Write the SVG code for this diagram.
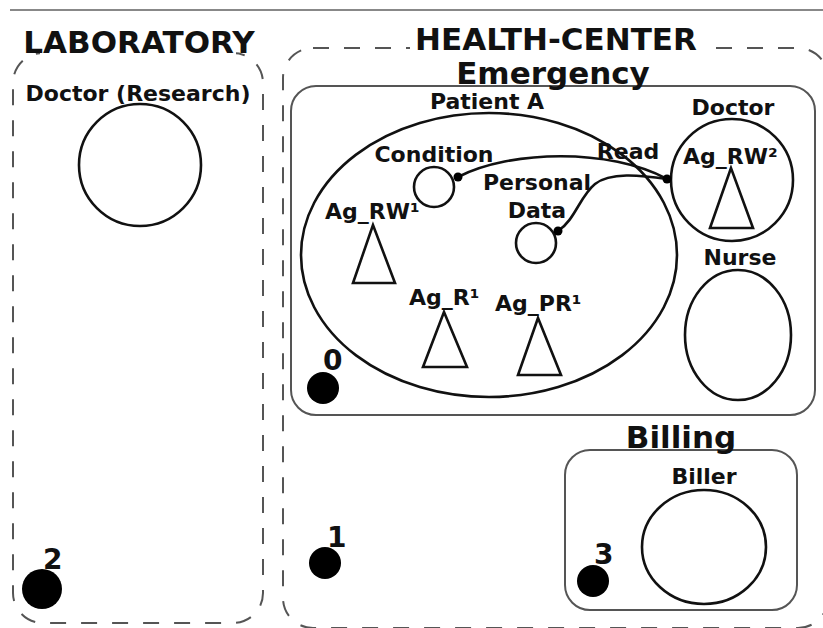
<svg xmlns="http://www.w3.org/2000/svg" width="823" height="628" viewBox="0 0 823 628">
  <style>
    text { font-family: "DejaVu Sans", "Liberation Sans", sans-serif; font-weight: bold; fill: #111; }
    .title { font-size: 31px; text-anchor: middle; }
    .lbl { font-size: 22px; text-anchor: middle; }
    .ag { font-size: 22px; }
    .num { font-size: 28px; }
    .zone { fill: none; stroke: #555; stroke-width: 2; stroke-dasharray: 16 15; }
    .box { fill: none; stroke: #555; stroke-width: 2; }
    .shape { fill: none; stroke: #111; stroke-width: 2.6; }
    .agent { fill: #fff; stroke: #111; stroke-width: 2.6; stroke-linejoin: miter; }
    .site { fill: #000; }
    .mask { fill: #fff; }
    .link { fill: none; stroke: #111; stroke-width: 2.6; }
    .end { fill: #000; }
  </style>

  <!-- header rule -->
  <line x1="10" y1="10" x2="823" y2="10" stroke="#888" stroke-width="2"/>

  <!-- laboratory zone -->
  <g id="laboratory">
    <rect class="zone" x="13" y="53" width="250" height="570" rx="30" ry="30"/>
    <rect class="mask" x="40" y="22" width="196" height="33"/>
    <text class="title" x="139" y="53">LABORATORY</text>
  </g>

  <g id="doctor-research">
    <text class="lbl" x="138" y="101">Doctor (Research)</text>
    <circle class="shape" cx="140" cy="165" r="61"/>
  </g>

  <g id="site-2">
    <circle class="site" cx="42" cy="589" r="20"/>
    <text class="num" x="43" y="569">2</text>
  </g>

  <!-- health-center zone -->
  <g id="health-center">
    <rect class="zone" x="283" y="48" width="545" height="580" rx="30" ry="30"/>
    <rect class="mask" x="410" y="18" width="294" height="31"/>
    <text class="title" x="556" y="50">HEALTH-CENTER</text>
  </g>

  <g id="site-1">
    <circle class="site" cx="325" cy="563" r="16"/>
    <text class="num" x="327" y="547">1</text>
  </g>

  <!-- emergency department -->
  <g id="emergency">
    <rect class="box" x="291" y="86" width="524" height="329" rx="25" ry="25"/>
    <text class="title" x="553" y="84">Emergency</text>
  </g>

  <g id="site-0">
    <circle class="site" cx="323" cy="388" r="16"/>
    <text class="num" x="323" y="370">0</text>
  </g>

  <g id="patient-a">
    <ellipse class="shape" cx="489" cy="255" rx="188" ry="142"/>
    <text class="lbl" x="487" y="109">Patient A</text>
  </g>

  <g id="condition">
    <text class="lbl" x="434" y="162">Condition</text>
    <circle class="shape" cx="434" cy="187" r="20"/>
  </g>

  <g id="personal-data">
    <text class="lbl" x="537" y="190">Personal</text>
    <text class="lbl" x="537" y="218">Data</text>
    <circle class="shape" cx="536" cy="243" r="20"/>
  </g>

  <g id="ag-rw1">
    <text class="ag" x="325" y="219">Ag_RW¹</text>
    <polygon class="agent" points="373,225 353,283 395,283"/>
  </g>

  <g id="ag-r1">
    <text class="ag" x="409" y="305">Ag_R¹</text>
    <polygon class="agent" points="444,312 423,367 467,367"/>
  </g>

  <g id="ag-pr1">
    <text class="ag" x="495" y="311">Ag_PR¹</text>
    <polygon class="agent" points="538,318 518,375 561,375"/>
  </g>

  <g id="doctor">
    <text class="lbl" x="733" y="115">Doctor</text>
    <circle class="shape" cx="732" cy="180" r="61"/>
  </g>

  <g id="ag-rw2">
    <text class="ag" x="683" y="164">Ag_RW²</text>
    <polygon class="agent" points="731,168 710,228 753,228"/>
  </g>

  <g id="nurse">
    <text class="lbl" x="740" y="265">Nurse</text>
    <ellipse class="shape" cx="738" cy="335" rx="53" ry="65"/>
  </g>

  <!-- billing department -->
  <g id="billing">
    <rect class="box" x="565" y="450" width="232" height="160" rx="25" ry="25"/>
    <text class="title" x="681" y="448">Billing</text>
  </g>

  <g id="biller">
    <text class="lbl" x="704" y="484">Biller</text>
    <ellipse class="shape" cx="704" cy="547" rx="62" ry="57"/>
  </g>

  <g id="site-3">
    <circle class="site" cx="593" cy="581" r="16"/>
    <text class="num" x="594" y="564">3</text>
  </g>

  <!-- read links from the doctor to the patient's data -->
  <g id="connectors">
    <path class="link" d="M458,177 C510,150 610,148 667,179"/>
    <path class="link" d="M558,231 C575,220 580,196 595,184 C610,172 640,175 667,179"/>
    <circle class="end" cx="458" cy="177" r="4.5"/>
    <circle class="end" cx="558" cy="231" r="4.5"/>
    <circle class="end" cx="667" cy="179" r="4.5"/>
    <text class="lbl" x="628" y="159">Read</text>
  </g>
</svg>
